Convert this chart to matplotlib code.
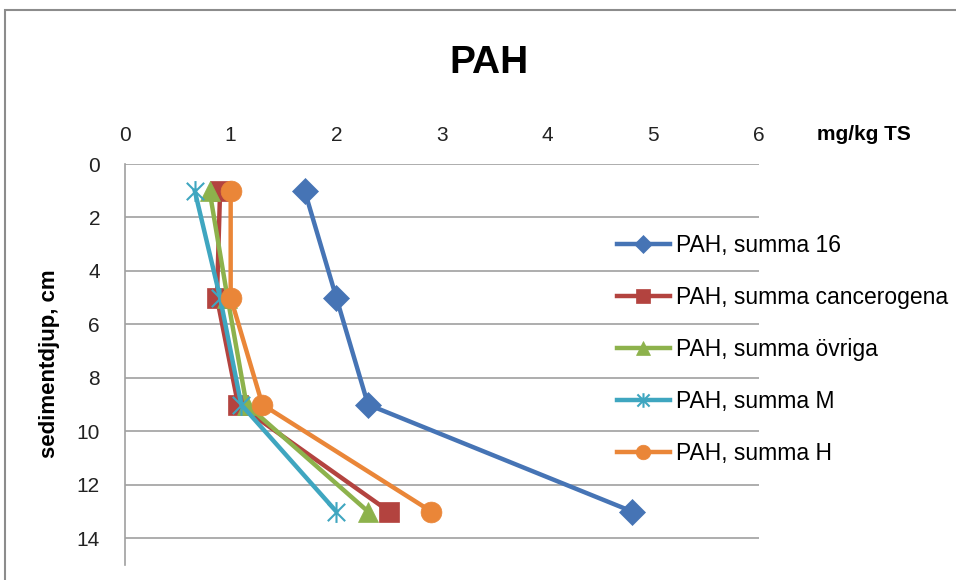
import matplotlib.pyplot as plt
from matplotlib.patches import Rectangle
from matplotlib.path import Path

plt.rcParams['font.family'] = ['Liberation Sans', 'DejaVu Sans']

# depth (cm) and concentrations (mg/kg TS)
depth = [1, 5, 9, 13]
summa_16 = [1.7, 2.0, 2.3, 4.8]
summa_cancerogena = [0.9, 0.87, 1.07, 2.5]
summa_ovriga = [0.8, 0.97, 1.15, 2.3]
summa_m = [0.66, 0.9, 1.1, 2.0]
summa_h = [1.0, 1.0, 1.3, 2.9]

# Excel-style star marker: an x with a vertical bar through it
star = Path([(-1, -1), (1, 1), (-1, 1), (1, -1), (0, -1.2), (0, 1.2)],
            [Path.MOVETO, Path.LINETO, Path.MOVETO, Path.LINETO,
             Path.MOVETO, Path.LINETO])

series = [
    ('PAH, summa 16', summa_16, '#4674B5', 'D', 13),
    ('PAH, summa cancerogena', summa_cancerogena, '#B3433F', 's', 15),
    ('PAH, summa övriga', summa_ovriga, '#8DB24C', '^', 15),
    ('PAH, summa M', summa_m, '#3FA6C0', star, 15),
    ('PAH, summa H', summa_h, '#EA8638', 'o', 15),
]

fig = plt.figure(figsize=(9.56, 5.8), dpi=100)
ax = fig.add_axes([125 / 956, 1 - 565 / 580, (759 - 125) / 956, (565 - 164) / 580])

# outer chart border
fig.patches.append(Rectangle((5 / 956, -0.1), 1.2, 1 - 10 / 580 + 0.1,
                             transform=fig.transFigure, fill=False,
                             edgecolor='#8c8c8c', linewidth=1.5))

for name, vals, col, mk, ms in series:
    ax.plot(vals, depth, color=col, linewidth=3.2, marker=mk, markersize=ms,
            markeredgewidth=1.5 if mk is star else 0.5, markeredgecolor=col,
            markerfacecolor=col, label=name)

ax.set_xlim(0, 6)
ax.set_ylim(15, 0)
ax.set_xticks(range(0, 7))
ax.set_yticks(range(0, 15, 2))
ax.xaxis.tick_top()
ax.tick_params(axis='x', length=0, pad=14, labelsize=15, labelcolor='#222222')
ax.tick_params(axis='y', length=0, pad=18, labelsize=15, labelcolor='#222222')
ax.grid(axis='y', color='#a0a0a0', linewidth=1.2)
ax.set_axisbelow(True)
for s in ['top', 'right', 'bottom']:
    ax.spines[s].set_visible(False)
ax.spines['left'].set_color('#a0a0a0')
ax.spines['left'].set_linewidth(1.2)

fig.text(50 / 956, 1 - 364 / 580, 'sedimentdjup, cm', rotation=90,
         ha='center', va='center', fontsize=16, fontweight='bold')
fig.text(489 / 956, 1 - 63 / 580, 'PAH', ha='center', va='center',
         fontsize=28, fontweight='bold')
fig.text(817 / 956, 1 - 134 / 580, 'mg/kg TS', ha='left', va='center',
         fontsize=15, fontweight='bold')

ax.legend(loc='upper left', bbox_to_anchor=(617 / 956, 1 - 234 / 580),
          bbox_transform=fig.transFigure, frameon=False, fontsize=16.5,
          handlelength=2.3, handletextpad=0.27, labelspacing=1.27,
          markerscale=0.7, borderaxespad=0, borderpad=0)

fig.savefig('out.png', dpi=100)
